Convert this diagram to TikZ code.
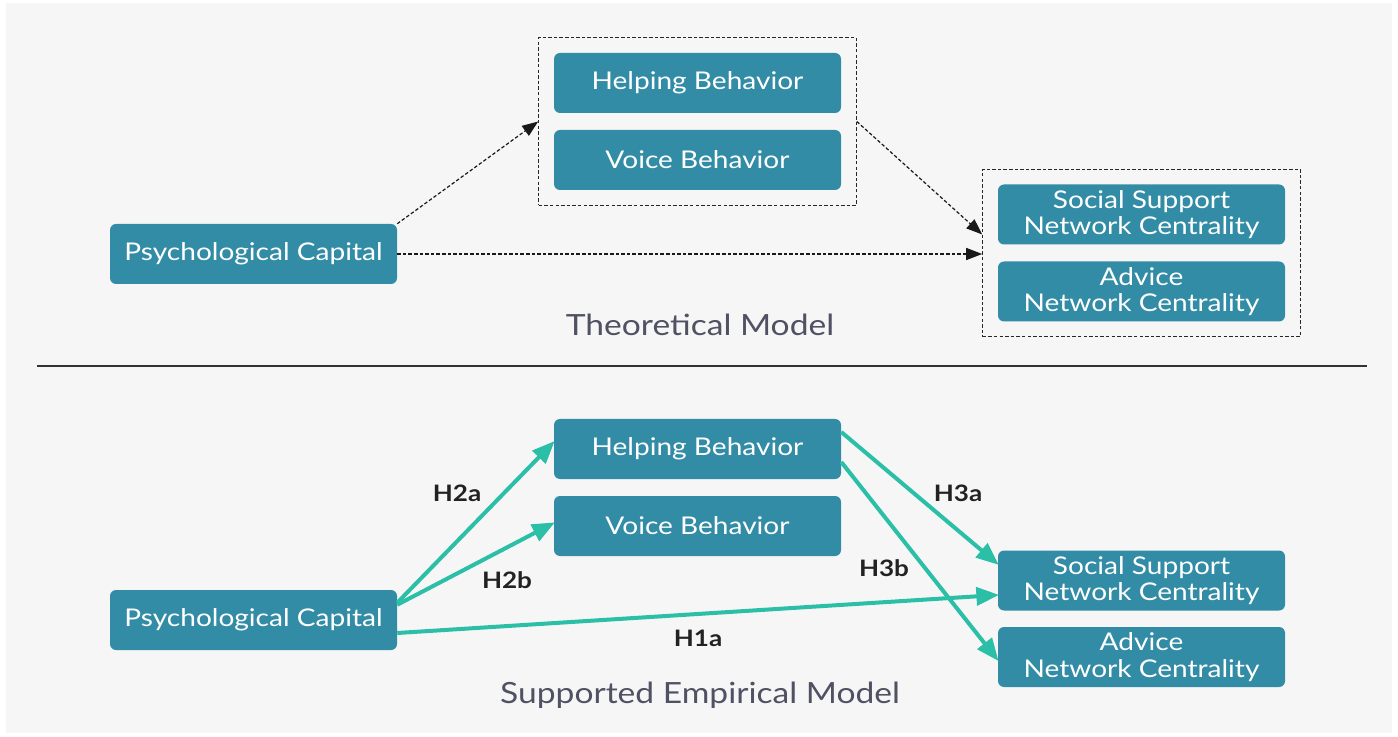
\documentclass[tikz,border=0pt]{standalone}
\usepackage{fontspec}
\setmainfont{Lato}[FakeStretch=1.15]
\usetikzlibrary{arrows.meta,fit,calc}
\definecolor{boxblue}{HTML}{328CA5}
\definecolor{tealarrow}{HTML}{2BBFA7}
\definecolor{panelbg}{HTML}{F6F6F6}
\definecolor{titlegray}{HTML}{505264}
\definecolor{labeldark}{HTML}{222222}
\tikzset{
  varbox/.style={rectangle, rounded corners=4.5pt, fill=boxblue, text=white,
    minimum width=215.25pt, minimum height=45pt, inner sep=0pt, align=center,
    font=\fontsize{18.3}{20}\selectfont},
  groupbox/.style={draw=black!85, dashed, dash pattern=on 2.6pt off 1.6pt, line width=0.8pt, inner sep=11.25pt},
  dasharrow/.style={draw=black!90, line width=0.9pt, dash pattern=on 2.6pt off 1.6pt,
    -{Triangle[length=12pt,width=9pt]}},
  effarrow/.style={draw=tealarrow, line width=3pt, -{Triangle[length=17pt,width=13.5pt]}, shorten >=-1pt},
  hlabel/.style={text=labeldark, font=\fontsize{17}{18}\selectfont\bfseries},
  modeltitle/.style={text=titlegray, font=\fontsize{21.9}{23}\selectfont}
}
\begin{document}
\begin{tikzpicture}[x=0.75pt,y=-0.75pt]
\useasboundingbox (0,0) rectangle (1398,737);
\fill[white] (0,0) rectangle (1398,737);
\fill[panelbg] (6,3) rectangle (1392,733);

% ---------- Theoretical model ----------
\node[varbox] (tpc) at (253.5,254) {Psychological Capital};
\node[varbox] (thb) at (697.5,83) {Helping Behavior};
\node[varbox] (tvb) at (697.5,160) {Voice Behavior};
\node[varbox] (tss) at (1141.5,214.5) {Social Support\\Network Centrality};
\node[varbox] (tad) at (1141.5,291.5) {Advice\\Network Centrality};
\node[groupbox, fit=(thb)(tvb)] (tg1) {};
\node[groupbox, fit=(tss)(tad)] (tg2) {};
\draw[dasharrow] (tpc.north east) -- (tg1.west);
\draw[dasharrow] (tg1.east) -- ($(tg2.west)+(0,-18.5)$);
\draw[dasharrow] (tpc.east) -- (tpc.east -| tg2.west);
\node[modeltitle] (ttitle) at (700,325) {Theoretical Model};

% ---------- separator ----------
\coordinate (sepL) at (37,366);
\coordinate (sepR) at (1367,366);
\draw[black!80, line width=0.8pt] (sepL) -- (sepR);

% ---------- Supported empirical model ----------
\node[varbox] (epc) at (253.5,620) {Psychological Capital};
\node[varbox] (ehb) at (697.5,449) {Helping Behavior};
\node[varbox] (evb) at (697.5,526) {Voice Behavior};
\node[varbox] (ess) at (1141.5,580.5) {Social Support\\Network Centrality};
\node[varbox] (ead) at (1141.5,657) {Advice\\Network Centrality};
\draw[effarrow] ($(epc.north east)+(0,13)$) -- ($(ehb.west)+(0,-7)$);
\draw[effarrow] ($(epc.north east)+(0,15)$) -- ($(evb.west)+(0,-3)$);
\draw[effarrow] ($(epc.east)+(0,13)$) -- ($(ess.west)+(0,14.5)$);
\draw[effarrow] ($(ehb.east)+(0,-17)$) -- ($(ess.west)+(0,-16.5)$);
\draw[effarrow] ($(ehb.east)+(0,13)$) -- ($(ead.west)+(0,3)$);
\node[hlabel] (h2a) at (457,493) {H2a};
\node[hlabel] (h2b) at (507,580) {H2b};
\node[hlabel] (h1a) at (698,638) {H1a};
\node[hlabel] (h3a) at (958,493) {H3a};
\node[hlabel] (h3b) at (884,568) {H3b};
\node[modeltitle] (etitle) at (700,695) {Supported Empirical Model};
\end{tikzpicture}
\end{document}
